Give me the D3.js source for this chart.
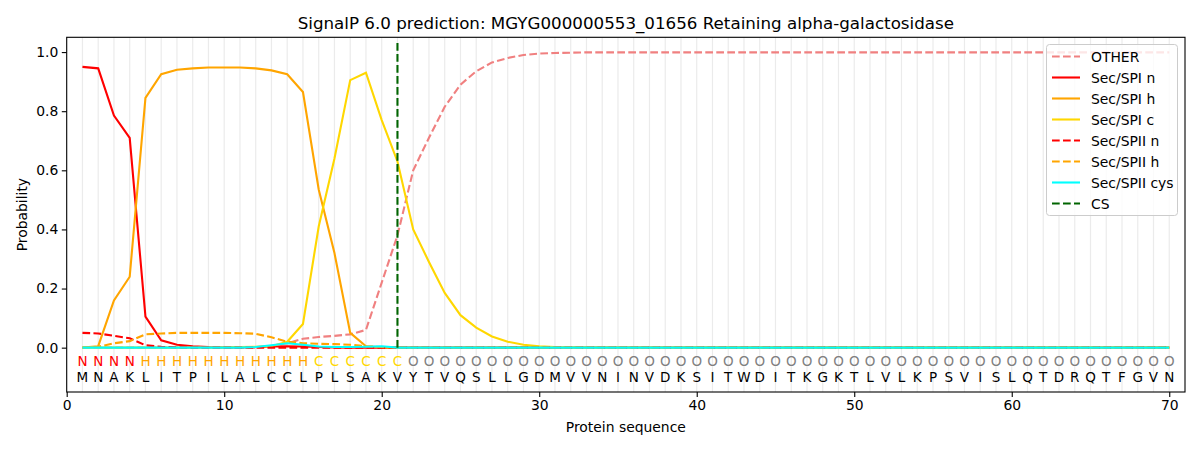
<!DOCTYPE html>
<html><head><meta charset="utf-8">
<script src="https://cdn.jsdelivr.net/npm/d3@7"></script>
<style>body{margin:0;background:#fff;} svg{font-family:"DejaVu Sans",sans-serif;}</style>
</head><body><svg id="c" width="1200" height="450"></svg>
<script>
const sequence = "MNAKLITPILALCCLPLSAKVYTVQSLLGDMVVNINVDKSITWDITKGKTLVLKPSVISLQTDRQTFGVN".split("");
const labels = "NNNNHHHHHHHHHHHCCCCCCOOOOOOOOOOOOOOOOOOOOOOOOOOOOOOOOOOOOOOOOOOOOOOOOO".split("");
const csPos = 21;
const xTicks = [0,10,20,30,40,50,60,70];
const yTicks = [0,0.2,0.4,0.6,0.8,1.0];

const pad = (arr) => arr.concat(new Array(70 - arr.length).fill(0));
const other = [0,0,0,0,0,0,0,0,0,0,0,0,0.005,0.015,0.03,0.036,0.04,0.045,0.06,0.22,0.38,0.60,0.71,0.815,0.89,0.935,0.965,0.98,0.99,0.995,0.997,0.998].concat(new Array(38).fill(0.999));
const spiN = pad([0.95,0.945,0.785,0.71,0.105,0.025,0.01,0.005,0.002,0.001,0.001,0.002,0.004,0.005,0.004,0.002,0.001]);
const spiH = pad([0,0.005,0.16,0.24,0.845,0.925,0.94,0.945,0.948,0.948,0.948,0.945,0.938,0.925,0.865,0.535,0.32,0.05,0.005,0.001]);
const spiC = pad([0,0,0,0,0,0,0,0,0,0.001,0.002,0.003,0.005,0.02,0.08,0.41,0.64,0.905,0.93,0.77,0.63,0.40,0.29,0.185,0.11,0.068,0.038,0.02,0.01,0.005,0.002,0.001]);
const spiiN = pad([0.05,0.048,0.04,0.032,0.008,0.003,0.001]);
const spiiH = pad([0,0.003,0.015,0.022,0.045,0.048,0.05,0.05,0.05,0.05,0.049,0.047,0.035,0.02,0.015,0.013,0.012,0.01,0.005,0.002]);
const spiiCys = pad([0,0,0,0,0,0,0,0,0,0,0,0.002,0.008,0.015,0.01,0.004,0.002,0.002,0.003,0.005]);

const series = [
  {name:"OTHER", vals:other, color:"#f08080", dash:true},
  {name:"Sec/SPI n", vals:spiN, color:"#ff0000", dash:false},
  {name:"Sec/SPI h", vals:spiH, color:"#ffa500", dash:false},
  {name:"Sec/SPI c", vals:spiC, color:"#ffd700", dash:false},
  {name:"Sec/SPII n", vals:spiiN, color:"#ff0000", dash:true},
  {name:"Sec/SPII h", vals:spiiH, color:"#ffa500", dash:true},
  {name:"Sec/SPII cys", vals:spiiCys, color:"#00ffff", dash:false}
];
const labelColor = {N:"#ff0000", H:"#ffa500", C:"#ffd700", O:"#808080"};

const L=66.7, R=1185, T=37.3, B=392;
const svg = d3.select("#c");
const x = d3.scaleLinear().domain([0,71]).range([L,R]);
const y = d3.scaleLinear().domain([-0.15,1.05]).range([B,T]);

// grid
svg.append("g").selectAll("line").data(d3.range(1,71)).join("line")
  .attr("x1",d=>x(d)).attr("x2",d=>x(d)).attr("y1",T).attr("y2",B)
  .attr("stroke","#ebebeb").attr("stroke-width",1.2);

const line = d3.line().x((d,i)=>x(i+1)).y(d=>y(d));
series.forEach(s=>{
  svg.append("path").datum(s.vals).attr("d",line).attr("fill","none")
    .attr("stroke",s.color).attr("stroke-width",2.1)
    .attr("stroke-dasharray",s.dash?"7.7,3.3":null);
});
svg.append("line").attr("x1",x(csPos)).attr("x2",x(csPos)).attr("y1",y(0)).attr("y2",y(1.04))
  .attr("stroke","#006400").attr("stroke-width",2.1).attr("stroke-dasharray","7.7,3.3");

// letters
svg.append("g").selectAll("text").data(labels).join("text")
  .attr("x",(d,i)=>x(i+1)).attr("y",366).attr("text-anchor","middle")
  .attr("font-size",13.5).attr("fill",d=>labelColor[d]).text(d=>d);
svg.append("g").selectAll("text").data(sequence).join("text")
  .attr("x",(d,i)=>x(i+1)).attr("y",382).attr("text-anchor","middle")
  .attr("font-size",13.5).attr("fill","#000").text(d=>d);

// axes
const xa = svg.append("g").attr("transform",`translate(0,${B})`)
  .call(d3.axisBottom(x).tickValues(xTicks).tickSize(4.9).tickPadding(3.5).tickFormat(d3.format("d")));
const ya = svg.append("g").attr("transform",`translate(${L},0)`)
  .call(d3.axisLeft(y).tickValues(yTicks).tickSize(4.9).tickPadding(3.5).tickFormat(d3.format(".1f")));
[xa,ya].forEach(a=>{a.select(".domain").remove();a.selectAll("text").attr("font-size",13.9).attr("fill","#000").attr("font-family","DejaVu Sans");a.selectAll("line").attr("stroke","#000").attr("stroke-width",1.1);});
svg.append("rect").attr("x",L).attr("y",T).attr("width",R-L).attr("height",B-T)
  .attr("fill","none").attr("stroke","#000").attr("stroke-width",1.1);

svg.append("text").attr("x",(L+R)/2).attr("y",29).attr("text-anchor","middle")
  .attr("font-size",16.7).text("SignalP 6.0 prediction: MGYG000000553_01656 Retaining alpha-galactosidase");
svg.append("text").attr("x",(L+R)/2).attr("y",432).attr("text-anchor","middle")
  .attr("font-size",13.9).text("Protein sequence");
svg.append("text").attr("transform",`translate(27,${(T+B)/2}) rotate(-90)`).attr("text-anchor","middle")
  .attr("font-size",13.9).text("Probability");

// legend
const legItems = series.map(s=>({name:s.name,color:s.color,dash:s.dash})).concat([{name:"CS",color:"#006400",dash:true}]);
const lg = svg.append("g");
lg.append("rect").attr("x",1046.5).attr("y",44.5).attr("width",131).attr("height",171).attr("rx",3)
  .attr("fill","#fff").attr("fill-opacity",0.8).attr("stroke","#cccccc").attr("stroke-width",1);
legItems.forEach((d,i)=>{
  const yy = 56.5 + i*21;
  lg.append("line").attr("x1",1052).attr("x2",1080).attr("y1",yy).attr("y2",yy)
    .attr("stroke",d.color).attr("stroke-width",2.1).attr("stroke-dasharray",d.dash?"7.7,3.3":null);
  lg.append("text").attr("x",1091).attr("y",yy+5).attr("font-size",13.9).text(d.name);
});
</script></body></html>
